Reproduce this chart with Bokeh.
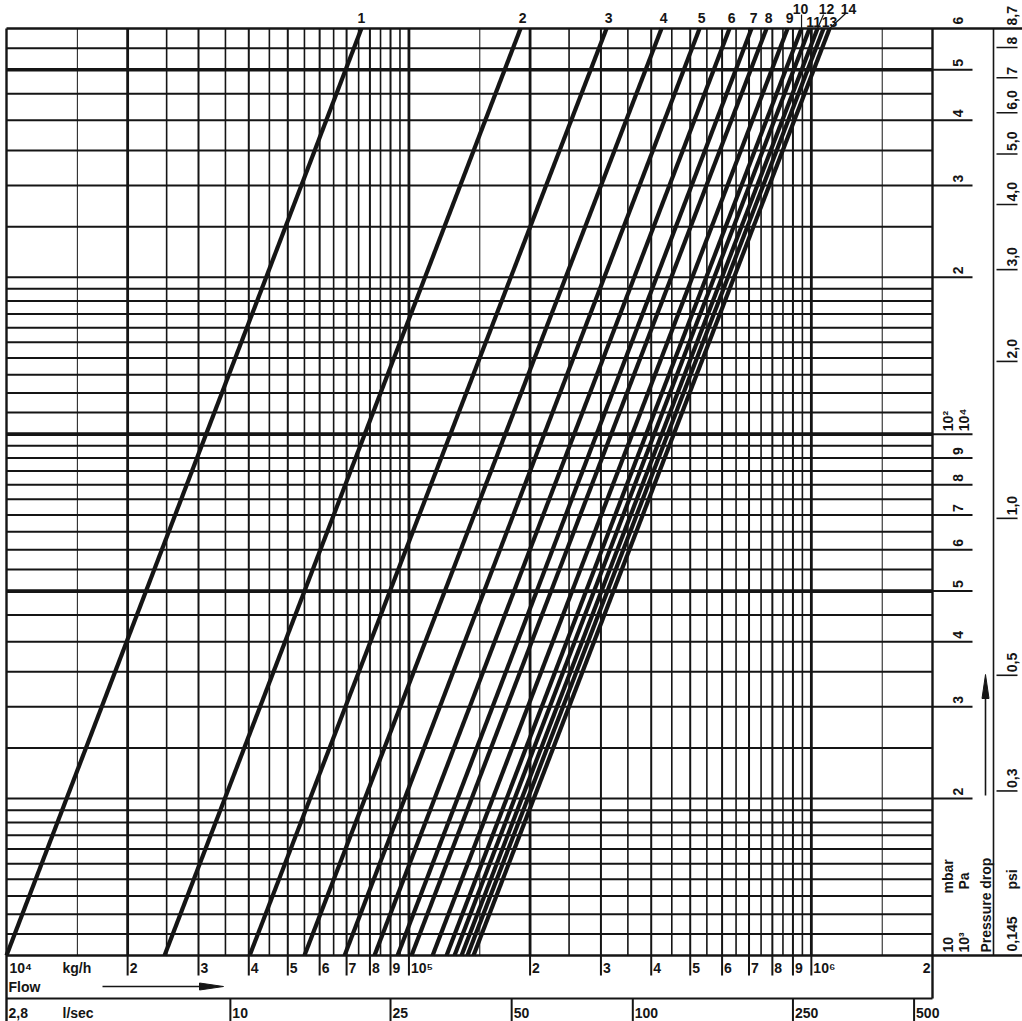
import numpy as np
from bokeh.plotting import figure
from bokeh.models import Range1d
from bokeh.core.properties import value
from bokeh.embed import file_html
from bokeh.resources import INLINE

# ---------------- values ----------------
CURVE_NAMES = ["1", "2", "3", "4", "5", "6", "7", "8", "9", "10", "11", "12", "13", "14"]
# flow (kg/h) where each curve meets 10^3 Pa (bottom) and 6*10^4 Pa (top)
FLOW_AT_DP_LOW = [10000, 24700, 40200, 55000, 69200, 82100, 93700, 101500,
                  114500, 124000, 129800, 135100, 139800, 144700]
FLOW_AT_DP_HIGH = [76200, 189400, 309800, 424300, 527600, 626200, 710200, 774000,
                   872800, 945400, 989700, 1036000, 1072000, 1110000]
DP_LOW = 1000.0
DP_HIGH = 60000.0
FLOW_MIN = 1.0e4
FLOW_MAX = 2.0e6

FLOW_DECADES = [1e4, 1e5, 1e6]
FLOW_GRID_MANTISSAS = [1.0, 1.5, 2.0, 2.5, 3.0, 3.5, 4.0, 4.5, 5.0, 5.5,
                       6.0, 6.5, 7.0, 7.5, 8.0, 8.5, 9.0, 9.5]
DP_DECADES = [1e3, 1e4]
DP_GRID_MANTISSAS = [1.0, 1.1, 1.2, 1.3, 1.4, 1.5, 1.6, 1.7, 1.8, 1.9,
                     2.0, 2.5, 3.0, 3.5, 4.0, 4.5, 5.0, 5.5, 6.0, 6.5,
                     7.0, 7.5, 8.0, 8.5, 9.0, 9.5]

FLOW_TICKS = [1e4, 2e4, 3e4, 4e4, 5e4, 6e4, 7e4, 8e4, 9e4,
              1e5, 2e5, 3e5, 4e5, 5e5, 6e5, 7e5, 8e5, 9e5, 1e6, 2e6]
FLOW_TICK_LABELS = ["10⁴", "2", "3", "4", "5", "6", "7", "8", "9",
                    "10⁵", "2", "3", "4", "5", "6", "7", "8", "9", "10⁶", "2"]
LSEC_TICKS = [2.8, 10, 25, 50, 100, 250, 500]
LSEC_TICK_LABELS = ["2,8", "10", "25", "50", "100", "250", "500"]
KGH_PER_LSEC = 3600.0

DP_TICKS = [2e3, 3e3, 4e3, 5e3, 6e3, 7e3, 8e3, 9e3, 2e4, 3e4, 4e4, 5e4, 6e4]
DP_TICK_LABELS = ["2", "3", "4", "5", "6", "7", "8", "9", "2", "3", "4", "5", "6"]
DP_DECADE_TICKS = [1e3, 1e4]
MBAR_DECADE_LABELS = ["10", "10²"]
PA_DECADE_LABELS = ["10³", "10⁴"]

PA_PER_PSI = 6894.76
PSI_TICKS = [0.3, 0.5, 1.0, 2.0, 3.0, 4.0, 5.0, 6.0, 7.0, 8.0]
PSI_TICK_LABELS = ["0,3", "0,5", "1,0", "2,0", "3,0", "4,0", "5,0", "6,0", "7", "8"]

# ---------------- page geometry (pixels of the page) ----------------
W, H = 1022, 1021
OX, OY = 0, 0              # page position of canvas origin
LEFT_PX, RIGHT_PX = 6.0, 932.0
TOP_PX, BOTTOM_PX = 28.0, 955.0
XDEC = (RIGHT_PX - LEFT_PX) / np.log10(FLOW_MAX / FLOW_MIN)
YDEC = (BOTTOM_PX - TOP_PX) / np.log10(DP_HIGH / DP_LOW)


def X(px):
    return 10 ** (np.log10(FLOW_MIN) + (np.asarray(px, dtype=float) - LEFT_PX) / XDEC)


def Y(py):
    return 10 ** (np.log10(DP_LOW) + (BOTTOM_PX - np.asarray(py, dtype=float)) / YDEC)


def PX(q):
    return LEFT_PX + XDEC * np.log10(np.asarray(q, dtype=float) / FLOW_MIN)


def PY(d):
    return BOTTOM_PX - YDEC * np.log10(np.asarray(d, dtype=float) / DP_LOW)


p = figure(width=W, height=H, x_axis_type="log", y_axis_type="log",
           x_range=Range1d(float(X(OX)), float(X(OX + W))),
           y_range=Range1d(float(Y(OY + H)), float(Y(OY))),
           output_backend="svg", toolbar_location=None, title=None,
           min_border=0, x_axis_location=None, y_axis_location=None)
p.outline_line_color = None
p.xgrid.visible = False
p.ygrid.visible = False
p.background_fill_color = "white"
p.border_fill_color = "white"

INK = "#151515"
FONT = value("Liberation Sans")

# ---------------- grid ----------------
vx, vw = [], []
for d in FLOW_DECADES:
    for m in FLOW_GRID_MANTISSAS:
        q = d * m
        if q <= FLOW_MIN * 1.001 or q >= FLOW_MAX * 0.999:
            continue
        vx.append(q)
        if m == 1.5:
            vw.append(1.0)
        elif m in (1.0, 2.0):
            vw.append(2.8)
        elif m == int(m):
            vw.append(2.0)
        else:
            vw.append(1.6)
p.segment(x0=vx, y0=DP_LOW, x1=vx, y1=DP_HIGH, line_color=INK, line_width=vw)

hy, hw = [], []
for d in DP_DECADES:
    for m in DP_GRID_MANTISSAS:
        v = d * m
        if v <= DP_LOW * 1.001 or v >= DP_HIGH * 0.999:
            continue
        hy.append(v)
        if m in (1.0, 5.0):
            hw.append(3.6)
        else:
            hw.append(2.0)
p.segment(x0=FLOW_MIN, y0=hy, x1=FLOW_MAX, y1=hy, line_color=INK, line_width=hw)

# ---------------- frame ----------------
p.segment(x0=[FLOW_MIN], y0=[float(Y(TOP_PX))], x1=[FLOW_MIN], y1=[float(Y(OY + H))],
          line_color=INK, line_width=2.4)                                  # left border
p.segment(x0=[FLOW_MAX], y0=[DP_HIGH], x1=[FLOW_MAX], y1=[float(Y(998))],
          line_color=INK, line_width=2.4)                                  # right border
p.segment(x0=[FLOW_MIN], y0=[DP_HIGH], x1=[float(X(OX + W))], y1=[DP_HIGH],
          line_color=INK, line_width=2.4)                                  # top border
p.segment(x0=[FLOW_MIN], y0=[DP_LOW], x1=[float(X(OX + W))], y1=[DP_LOW],
          line_color=INK, line_width=2.4)                                  # bottom border
p.segment(x0=[FLOW_MIN], y0=[float(Y(998))], x1=[FLOW_MAX], y1=[float(Y(998))],
          line_color=INK, line_width=2.0)                                  # l/sec rule
p.segment(x0=[float(X(993))], y0=[DP_HIGH], x1=[float(X(993))], y1=[DP_LOW],
          line_color=INK, line_width=1.6)                                  # psi column rule

# ---------------- curves ----------------
p.segment(x0=FLOW_AT_DP_LOW, y0=DP_LOW, x1=FLOW_AT_DP_HIGH, y1=DP_HIGH,
          line_color=INK, line_width=4.2)

txt = dict(text_font=FONT, text_font_style="bold", text_font_size="14px", text_color=INK)

# curve labels at the top
lab_px = PX(FLOW_AT_DP_HIGH)
row_y = []
lab_x = []
for i, name in enumerate(CURVE_NAMES):
    x = float(lab_px[i])
    yy = 17
    if name == "10":
        x, yy = x - 1, 8
    elif name == "11":
        x, yy = x + 4, 21
    elif name == "12":
        x, yy = x + 9, 8
    elif name == "13":
        x, yy = x + 6, 21
    elif name == "14":
        x, yy = x + 19, 8
    elif name != "1":
        x = x + 2
    lab_x.append(float(X(x)))
    row_y.append(float(Y(yy)))
p.text(x=lab_x, y=row_y, text=CURVE_NAMES, text_align="center", text_baseline="middle", **txt)

# leader lines for 10, 12, 14
i10, i12, i14 = 9, 11, 13
p.segment(x0=[FLOW_AT_DP_HIGH[i10], FLOW_AT_DP_HIGH[i12], FLOW_AT_DP_HIGH[i14]],
          y0=[DP_HIGH] * 3,
          x1=[FLOW_AT_DP_HIGH[i10], float(X(lab_px[i12] + 6)), float(X(lab_px[i14] + 16))],
          y1=[float(Y(14)), float(Y(14)), float(Y(13))],
          line_color=INK, line_width=1.2)

# ---------------- bottom: kg/h axis ----------------
ft_px = PX(FLOW_TICKS)
inner = [q for q in FLOW_TICKS if FLOW_MIN < q < FLOW_MAX]
p.segment(x0=inner, y0=DP_LOW, x1=inner, y1=float(Y(975)), line_color=INK, line_width=2.0)
fx = []
for i, lab in enumerate(FLOW_TICK_LABELS):
    if i == 0:
        fx.append(float(X(ft_px[i] + 3)))
    else:
        fx.append(float(X(ft_px[i] + 2)))
aligns = ["left"] * (len(FLOW_TICK_LABELS) - 1) + ["right"]
fx[-1] = float(X(ft_px[-1] - 2))
p.text(x=fx, y=float(Y(967)), text=FLOW_TICK_LABELS, text_align=aligns,
       text_baseline="middle", **txt)
p.text(x=[float(X(62))], y=[float(Y(967))], text=["kg/h"], text_align="left",
       text_baseline="middle", **txt)
p.text(x=[float(X(8))], y=[float(Y(986))], text=["Flow"], text_align="left",
       text_baseline="middle", **txt)
# flow arrow
p.segment(x0=[float(X(102))], y0=[float(Y(986))], x1=[float(X(205))], y1=[float(Y(986))],
          line_color=INK, line_width=1.6)
p.patch(x=[float(X(199)), float(X(223)), float(X(199))],
        y=[float(Y(982.5)), float(Y(986)), float(Y(989.5))], color=INK)

# ---------------- bottom: l/sec axis ----------------
lq = [v * KGH_PER_LSEC for v in LSEC_TICKS]
lpx = PX(lq)
p.segment(x0=lq[1:], y0=float(Y(998)), x1=lq[1:], y1=float(Y(OY + H)), line_color=INK, line_width=2.0)
lx = [float(X(8))] + [float(X(v + 2)) for v in lpx[1:]]
p.text(x=lx, y=float(Y(1012)), text=LSEC_TICK_LABELS, text_align="left",
       text_baseline="middle", **txt)
p.text(x=[float(X(62))], y=[float(Y(1012))], text=["l/sec"], text_align="left",
       text_baseline="middle", **txt)

# ---------------- right: mbar / Pa axis ----------------
p.segment(x0=FLOW_MAX, y0=DP_TICKS[:-1] + DP_DECADE_TICKS[1:], x1=float(X(972)),
          y1=DP_TICKS[:-1] + DP_DECADE_TICKS[1:], line_color=INK, line_width=2.0)
rot = dict(angle=np.pi / 2, text_align="left", text_baseline="middle")
p.text(x=float(X(957)), y=[float(Y(v - 3)) for v in PY(DP_TICKS[:-1])] + [float(Y(24))],
       text=DP_TICK_LABELS, **rot, **txt)
p.text(x=float(X(947)), y=[float(Y(v - 3)) for v in PY(DP_DECADE_TICKS)],
       text=MBAR_DECADE_LABELS, **rot, **txt)
p.text(x=float(X(963)), y=[float(Y(v - 3)) for v in PY(DP_DECADE_TICKS)],
       text=PA_DECADE_LABELS, **rot, **txt)
p.text(x=[float(X(947))], y=[float(Y(893))], text=["mbar"], **rot, **txt)
p.text(x=[float(X(963))], y=[float(Y(889))], text=["Pa"], **rot, **txt)
p.text(x=[float(X(985))], y=[float(Y(952))], text=["Pressure drop"], **rot, **txt)
# pressure arrow
p.segment(x0=[float(X(985))], y0=[float(Y(795))], x1=[float(X(985))], y1=[float(Y(690))],
          line_color=INK, line_width=1.6)
p.patch(x=[float(X(981.5)), float(X(985)), float(X(988.5))],
        y=[float(Y(698)), float(Y(674)), float(Y(698))], color=INK)

# ---------------- right: psi axis ----------------
psi_pa = [v * PA_PER_PSI for v in PSI_TICKS]
p.segment(x0=float(X(996)), y0=psi_pa, x1=float(X(1017)), y1=psi_pa, line_color=INK, line_width=1.6)
p.text(x=float(X(1011)), y=[float(Y(v - 3)) for v in PY(psi_pa)], text=PSI_TICK_LABELS, **rot, **txt)
p.text(x=[float(X(1011))], y=[float(Y(951))], text=["0,145"], **rot, **txt)
p.text(x=[float(X(1011))], y=[float(Y(889))], text=["psi"], **rot, **txt)
p.text(x=[float(X(1011))], y=[float(Y(25))], text=["8,7"], **rot, **txt)

open("out.html", "w").write(file_html(p, INLINE))
